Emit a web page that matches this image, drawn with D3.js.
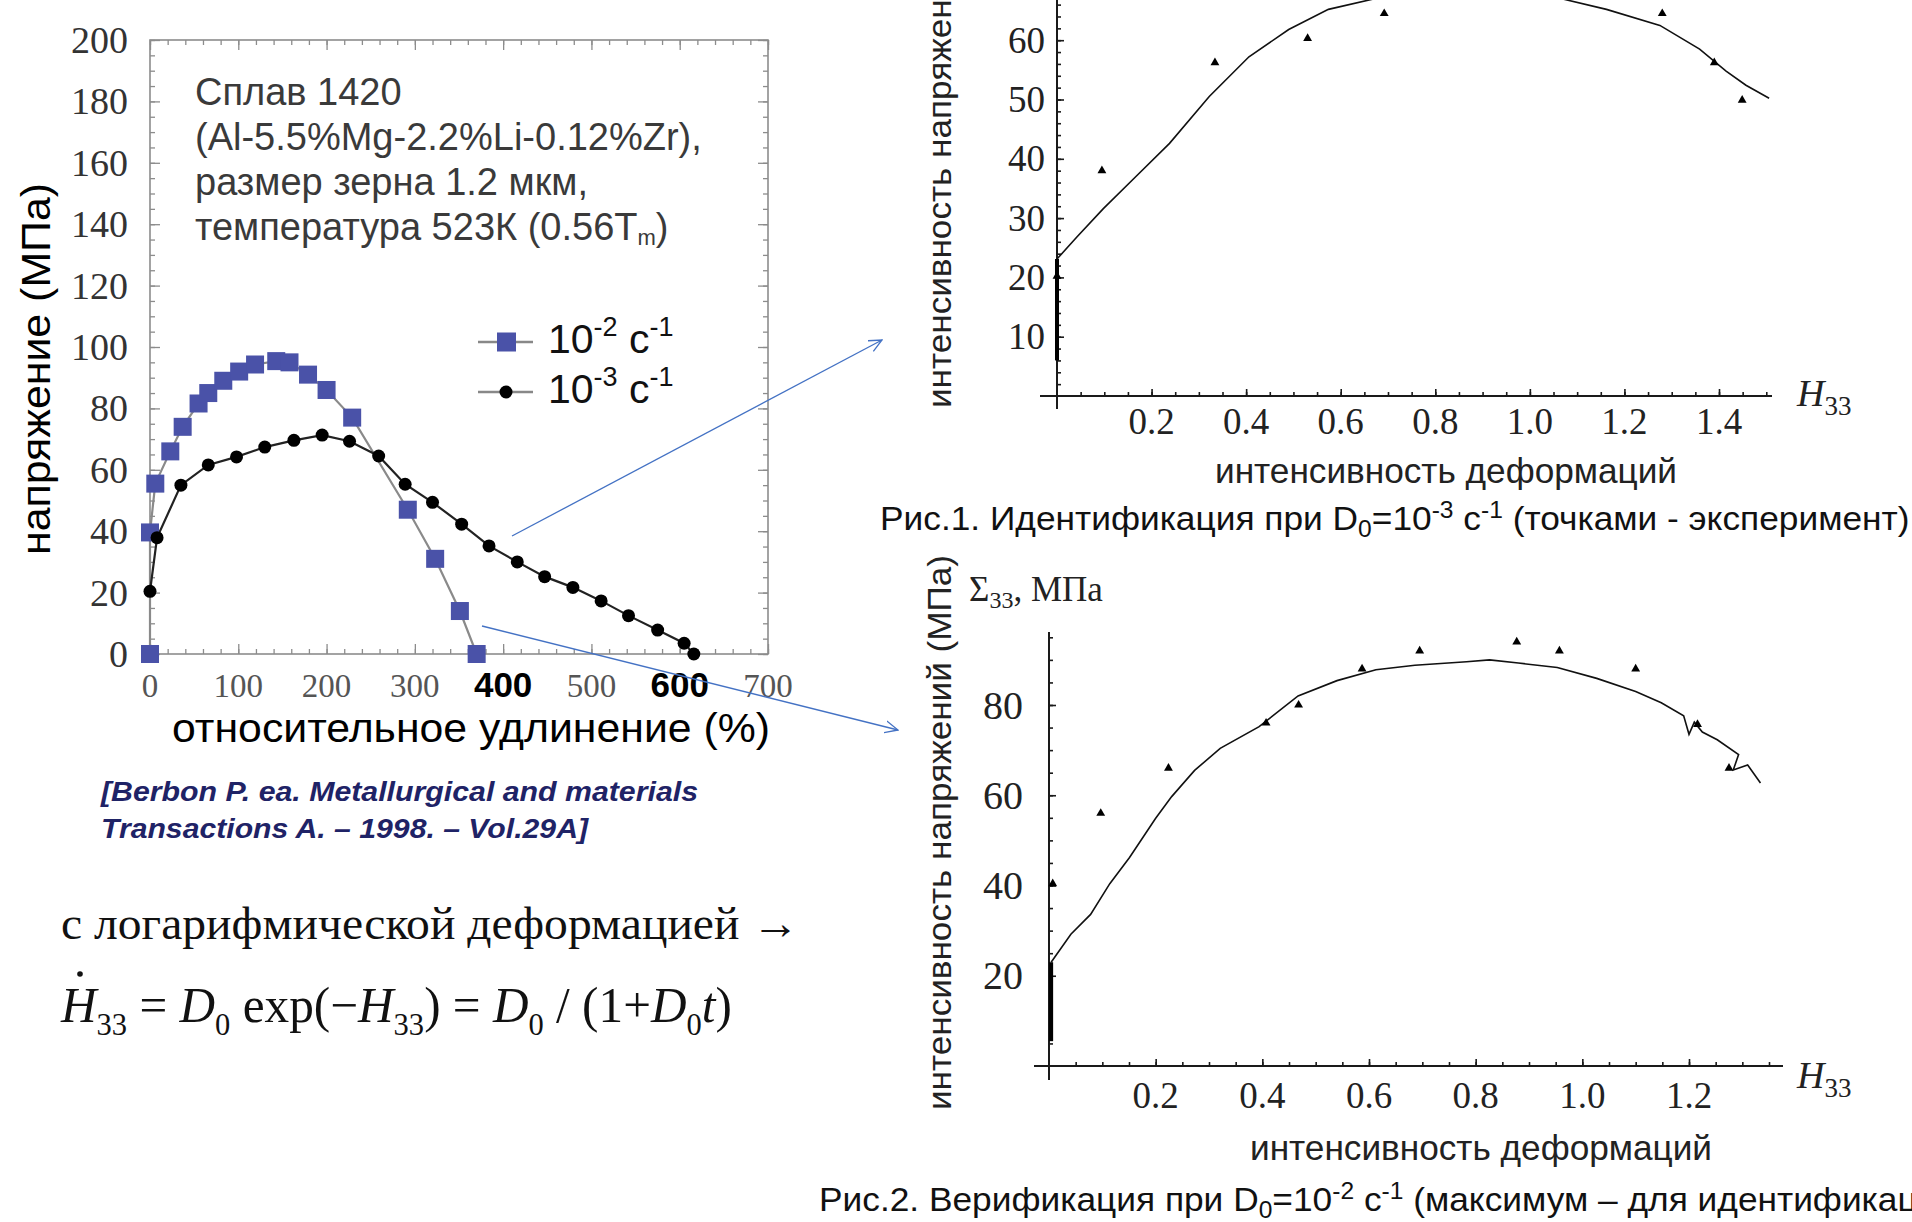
<!DOCTYPE html>
<html lang="ru">
<head>
  <meta charset="UTF-8">
  <title>Сплав 1420: идентификация и верификация</title>
  <style>
    body { margin: 0; overflow: hidden; background: #fff; }
    svg { display: block; }
    .serif { font-family: "Liberation Serif", "DejaVu Serif", serif; }
    .sans { font-family: "Liberation Sans", Arial, sans-serif; }
  </style>
</head>
<body>
<script src="https://d3js.org/d3.v7.min.js"></script>
<script>
// left chart (Berbon et al.): stress, MPa vs elongation, %
const fastElong  = [0, 0, 6, 23, 37, 55, 66, 83, 101, 119, 143, 158, 179, 200, 229, 292, 323, 351, 370];
const fastStress = [0, 39.6, 55.5, 66, 74, 81.6, 85, 89, 92, 94.3, 95.4, 95, 91, 86, 77, 47, 31, 14, 0];
const slowElong  = [0, 8, 35, 66, 98, 130, 163, 195, 226, 259, 289, 320, 353, 384, 416, 447, 479, 511, 542, 575, 605, 616];
const slowStress = [20.4, 37.9, 55, 61.6, 64.2, 67.4, 69.6, 71.3, 69.3, 64.5, 55.3, 49.4, 42.3, 35.2, 30, 25.2, 21.7, 17.3, 12.5, 7.8, 3.5, 0];
const elongTicks  = [0, 100, 200, 300, 400, 500, 600, 700];
const boldTicks   = [400, 600];
const stressTicks = [0, 20, 40, 60, 80, 100, 120, 140, 160, 180, 200];
const titleLines  = ["Сплав 1420", "(Al-5.5%Mg-2.2%Li-0.12%Zr),", "размер зерна 1.2 мкм,", "температура 523К (0.56T"];
const legendRates = ["-2", "-3"];

// Рис.1: identification, D0 = 1e-3
const fitStrain1 = [0, 0, 0.042, 0.098, 0.168, 0.238, 0.322, 0.406, 0.49, 0.574, 0.672, 0.75, 0.87, 0.97, 1.067, 1.162, 1.275, 1.359, 1.415, 1.457, 1.506];
const fitStress1 = [6, 23.1, 26.8, 31.6, 37.1, 42.6, 50.5, 57.2, 61.8, 65.2, 67, 68.6, 69.4, 68.6, 67, 65.2, 62.5, 58.5, 54.8, 52.4, 50.2];
const expStrain1 = [0, 0.095, 0.334, 0.53, 0.692, 1.28, 1.39, 1.449];
const expStress1 = [20.2, 38, 56.2, 60.3, 64.5, 64.5, 56.2, 49.9];
const strainTicks1 = [0.2, 0.4, 0.6, 0.8, 1.0, 1.2, 1.4];
const sigmaTicks1  = [10, 20, 30, 40, 50, 60];

// Рис.2: verification, D0 = 1e-2
const fitStrain2 = [0.004, 0.004, 0.041, 0.078, 0.114, 0.151, 0.2, 0.23, 0.273, 0.321, 0.394, 0.467, 0.54, 0.613, 0.686, 0.783, 0.826, 0.88, 0.953, 1.027, 1.1, 1.148, 1.19, 1.2, 1.21, 1.225, 1.253, 1.293, 1.283, 1.31, 1.334];
const fitStress2 = [5.5, 23, 29.2, 33.6, 40.4, 46.2, 54.9, 59.7, 65.5, 70.4, 75.2, 82, 85.4, 87.8, 88.8, 89.6, 90, 89.3, 88.3, 85.9, 83, 80.5, 77.6, 73.5, 76.2, 74, 72.3, 69, 65.6, 66.7, 62.7];
const expStrain2 = [0.007, 0.097, 0.224, 0.407, 0.468, 0.587, 0.695, 0.877, 0.957, 1.1, 1.216, 1.275];
const expStress2 = [40.4, 56, 66, 76, 80, 88, 92, 94, 92, 88, 75.7, 66];
const strainTicks2 = [0.2, 0.4, 0.6, 0.8, 1.0, 1.2];
const sigmaTicks2  = [20, 40, 60, 80];

const width = 1912, height = 1222;
const svg = d3.select("body").append("svg").attr("width", width).attr("height", height);

svg.append("defs").append("marker")
    .attr("id", "arrow")
    .attr("viewBox", "0 -7 14 14")
    .attr("refX", 13).attr("refY", 0)
    .attr("markerWidth", 14).attr("markerHeight", 14)
    .attr("markerUnits", "userSpaceOnUse")
    .attr("orient", "auto")
  .append("path")
    .attr("d", "M0,-6L13,0L0,6")
    .attr("fill", "none").attr("stroke", "#4472C4").attr("stroke-width", 1.3);

// ---------- left chart ----------
const xL = d3.scaleLinear().domain([0, 700]).range([150, 768]);
const yL = d3.scaleLinear().domain([0, 200]).range([654, 40]);
const left = svg.append("g");
const frameGrey = "#8c8c8c";

left.append("rect")
    .attr("x", xL(0)).attr("y", yL(200))
    .attr("width", xL(700) - xL(0)).attr("height", yL(0) - yL(200))
    .attr("fill", "none").attr("stroke", frameGrey).attr("stroke-width", 1.6);

function frameTicks(axis, tr, vals, size) {
  left.append("g").attr("transform", tr)
    .call(axis.tickValues(vals).tickSizeInner(-size).tickSizeOuter(0).tickFormat(""))
    .call(g => g.select(".domain").remove())
    .selectAll("line").attr("stroke", frameGrey).attr("stroke-width", 1.3);
}
const minorX = d3.range(0, 701, 20), minorY = d3.range(0, 201, 5);
frameTicks(d3.axisBottom(xL), `translate(0,${yL(0)})`, minorX, 5);
frameTicks(d3.axisBottom(xL), `translate(0,${yL(0)})`, elongTicks, 10);
frameTicks(d3.axisTop(xL), `translate(0,${yL(200)})`, minorX, 5);
frameTicks(d3.axisTop(xL), `translate(0,${yL(200)})`, elongTicks, 10);
frameTicks(d3.axisLeft(yL), `translate(${xL(0)},0)`, minorY, 5);
frameTicks(d3.axisLeft(yL), `translate(${xL(0)},0)`, stressTicks, 10);
frameTicks(d3.axisRight(yL), `translate(${xL(700)},0)`, minorY, 5);
frameTicks(d3.axisRight(yL), `translate(${xL(700)},0)`, stressTicks, 10);

left.append("g").attr("class", "serif")
  .selectAll("text").data(stressTicks).join("text")
    .attr("x", 128).attr("y", d => yL(d)).attr("dy", "0.34em")
    .attr("text-anchor", "end").attr("font-size", 38).attr("fill", "#333")
    .text(d => d);

left.append("g")
  .selectAll("text").data(elongTicks).join("text")
    .attr("x", d => xL(d)).attr("y", 697)
    .attr("text-anchor", "middle")
    .attr("class", d => boldTicks.includes(d) ? "sans" : "serif")
    .attr("font-weight", d => boldTicks.includes(d) ? "bold" : "normal")
    .attr("font-size", d => boldTicks.includes(d) ? 35 : 33)
    .attr("fill", d => boldTicks.includes(d) ? "#000" : "#555")
    .text(d => d);

left.append("text").attr("class", "sans")
    .attr("transform", "translate(50,369) rotate(-90)")
    .attr("text-anchor", "middle").attr("font-size", 40)
    .attr("textLength", 372).attr("lengthAdjust", "spacingAndGlyphs")
    .text("напряжение (МПа)");

left.append("text").attr("class", "sans")
    .attr("x", 172).attr("y", 742).attr("font-size", 40)
    .attr("textLength", 598).attr("lengthAdjust", "spacingAndGlyphs")
    .text("относительное удлинение (%)");

const title = left.append("g").attr("class", "sans").attr("font-size", 38).attr("fill", "#3a3a3a");
titleLines.forEach((t, i) => {
  const tx = title.append("text").attr("x", 195).attr("y", 105 + i * 45).text(t);
  if (i === 3) {
    tx.append("tspan").attr("font-size", 22).attr("dy", 5).text("m");
    tx.append("tspan").attr("dy", -5).text(")");
  }
});

// series
const lineL = d3.line().x(d => xL(d[0])).y(d => yL(d[1]));
const fast = d3.zip(fastElong, fastStress);
const slow = d3.zip(slowElong, slowStress);
left.append("path").datum(fast).attr("d", lineL)
    .attr("fill", "none").attr("stroke", "#8a8a8a").attr("stroke-width", 2.2);
left.append("path").datum(slow).attr("d", lineL)
    .attr("fill", "none").attr("stroke", "#222").attr("stroke-width", 2.2);
left.append("g").selectAll("rect").data(fast).join("rect")
    .attr("x", d => xL(d[0]) - 9).attr("y", d => yL(d[1]) - 9)
    .attr("width", 18).attr("height", 18).attr("fill", "#4A52A8");
left.append("g").selectAll("circle").data(slow).join("circle")
    .attr("cx", d => xL(d[0])).attr("cy", d => yL(d[1])).attr("r", 6.5).attr("fill", "#000");

// legend
const legend = left.append("g").attr("class", "sans");
legendRates.forEach((r, i) => {
  const ly = 342 + i * 50;
  legend.append("line").attr("x1", 478).attr("x2", 533).attr("y1", ly).attr("y2", ly)
      .attr("stroke", "#888").attr("stroke-width", 2.5);
  if (i === 0) legend.append("rect").attr("x", 497).attr("y", ly - 9.5).attr("width", 19).attr("height", 19).attr("fill", "#4A52A8");
  else legend.append("circle").attr("cx", 506).attr("cy", ly).attr("r", 6.5).attr("fill", "#000");
  const t = legend.append("text").attr("x", 548).attr("y", ly + 11).attr("font-size", 41).attr("fill", "#111");
  t.append("tspan").text("10");
  t.append("tspan").attr("font-size", 27).attr("dy", -17).text(r);
  t.append("tspan").attr("dy", 17).text(" c");
  t.append("tspan").attr("font-size", 27).attr("dy", -17).text("-1");
});

// citation and formula
const cite = svg.append("g").attr("class", "sans").attr("font-weight", "bold").attr("font-style", "italic")
    .attr("font-size", 27).attr("fill", "#1F2366");
cite.append("text").attr("x", 101).attr("y", 801)
    .attr("textLength", 597).attr("lengthAdjust", "spacingAndGlyphs")
    .text("[Berbon P. ea. Metallurgical and materials");
cite.append("text").attr("x", 101).attr("y", 838)
    .attr("textLength", 487).attr("lengthAdjust", "spacingAndGlyphs")
    .text("Transactions A. – 1998. – Vol.29A]");

svg.append("text").attr("class", "serif").attr("x", 61).attr("y", 939)
    .attr("font-size", 47).attr("fill", "#111")
    .attr("textLength", 738).attr("lengthAdjust", "spacingAndGlyphs")
    .text("с логарифмической деформацией →");

function stretch(sel, x, y, w) {
  const k = w / sel.node().getComputedTextLength();
  sel.attr("transform", `translate(${x},${y}) scale(${k},1)`);
  return k;
}

const formula = svg.append("text").attr("class", "serif").attr("font-size", 50).attr("fill", "#111");
const parts = [["H", "i"], ["33", "s"], [" = ", ""], ["D", "i"], ["0", "s"], [" exp(−", ""], ["H", "i"], ["33", "s"],
               [") = ", ""], ["D", "i"], ["0", "s"], [" / (1+", ""], ["D", "i"], ["0", "s"], ["t", "i"], [")", ""]];
let sub = false;
parts.forEach(([t, k]) => {
  const sp = formula.append("tspan").text(t);
  if (k === "i") sp.attr("font-style", "italic");
  if (k === "s") { sp.attr("font-size", 31).attr("dy", sub ? 0 : 13); sub = true; }
  else { sp.attr("dy", sub ? -13 : 0); sub = false; }
});
stretch(formula, 61, 1022, 671);
svg.append("circle").attr("cx", 80).attr("cy", 974).attr("r", 2.8).attr("fill", "#111");

// arrows
svg.append("line").attr("x1", 512).attr("y1", 536).attr("x2", 882).attr("y2", 340)
    .attr("stroke", "#4472C4").attr("stroke-width", 1.3).attr("marker-end", "url(#arrow)");
svg.append("line").attr("x1", 482).attr("y1", 626).attr("x2", 898).attr("y2", 730)
    .attr("stroke", "#4472C4").attr("stroke-width", 1.3).attr("marker-end", "url(#arrow)");

// ---------- Mathematica style charts ----------
function mathChart(o) {
  const g = svg.append("g");
  const x = d3.scaleLinear().domain(o.xDomain).range(o.xRange);
  const y = d3.scaleLinear().domain(o.yDomain).range(o.yRange);
  const ink = "#1a1a1a";

  g.append("line").attr("x1", o.xAxisExt[0]).attr("x2", o.xAxisExt[1]).attr("y1", y(0)).attr("y2", y(0))
      .attr("stroke", ink).attr("stroke-width", 2);
  g.append("line").attr("x1", x(0)).attr("x2", x(0)).attr("y1", o.yAxisExt[0]).attr("y2", o.yAxisExt[1])
      .attr("stroke", ink).attr("stroke-width", 2);

  const tk = (axis, tr, vals, size) => g.append("g").attr("transform", tr)
      .call(axis.tickValues(vals).tickSizeInner(-size).tickSizeOuter(0).tickFormat(""))
      .call(s => s.select(".domain").remove())
      .selectAll("line").attr("stroke", ink).attr("stroke-width", 1.6);
  tk(d3.axisBottom(x), `translate(0,${y(0)})`, o.xMinor, 4);
  tk(d3.axisBottom(x), `translate(0,${y(0)})`, o.xTicks, 7);
  tk(d3.axisLeft(y), `translate(${x(0)},0)`, o.yMinor, 4);
  tk(d3.axisLeft(y), `translate(${x(0)},0)`, o.yTicks, 7);

  g.append("g").attr("class", "serif").selectAll("text").data(o.xTicks).join("text")
      .attr("x", d => x(d)).attr("y", o.xLabelY).attr("text-anchor", "middle")
      .attr("font-size", o.xFont).attr("fill", "#222").text(d => d3.format(".1f")(d));
  g.append("g").attr("class", "serif").selectAll("text").data(o.yTicks).join("text")
      .attr("x", o.yLabelX).attr("y", d => y(d)).attr("dy", "0.34em").attr("text-anchor", "end")
      .attr("font-size", o.yFont).attr("fill", "#222").text(d => d);

  const h = g.append("text").attr("class", "serif").attr("x", o.hPos[0]).attr("y", o.hPos[1])
      .attr("font-size", 38).attr("fill", "#222");
  h.append("tspan").attr("font-style", "italic").text("H");
  h.append("tspan").attr("font-size", 27).attr("dy", 9).text("33");

  const fit = d3.zip(o.fitX, o.fitY);
  const ln = d3.line().x(d => x(d[0])).y(d => y(d[1]));
  g.append("path").datum(fit.slice(0, 2)).attr("d", ln).attr("stroke", "#000").attr("stroke-width", 4);
  g.append("path").datum(fit.slice(1)).attr("d", ln).attr("fill", "none").attr("stroke", "#111").attr("stroke-width", 1.6);
  g.append("g").selectAll("path").data(d3.zip(o.expX, o.expY)).join("path")
      .attr("transform", d => `translate(${x(d[0])},${y(d[1])})`)
      .attr("d", d3.symbol(d3.symbolTriangle, 34)).attr("fill", "#000");

  g.append("text").attr("class", "sans").attr("x", o.xTitle[0]).attr("y", o.xTitle[1])
      .attr("font-size", 35).attr("fill", "#222")
      .attr("textLength", 462).attr("lengthAdjust", "spacingAndGlyphs")
      .text("интенсивность деформаций");
  g.append("text").attr("class", "sans")
      .attr("transform", `translate(${o.yTitle[0]},${o.yTitle[1]}) rotate(-90)`)
      .attr("font-size", 34).attr("fill", "#222")
      .attr("textLength", 555).attr("lengthAdjust", "spacingAndGlyphs")
      .text("интенсивность напряжений (МПа)");

  const cap = g.append("text").attr("class", "sans").attr("font-size", 33).attr("fill", "#111");
  o.caption.forEach(([t, k]) => {
    const sp = cap.append("tspan").text(t);
    if (k === "sub") sp.attr("font-size", 23).attr("dy", 7);
    if (k === "sup") sp.attr("font-size", 23).attr("dy", -12);
    if (k === "back") sp.attr("dy", 12);
    if (k === "up") sp.attr("dy", -7);
  });
  return { g, x, y, cap };
}

const c1 = mathChart({
  xDomain: [0, 1.4], xRange: [1057, 1719], yDomain: [0, 60], yRange: [396, 40.2],
  xAxisExt: [1040, 1772], yAxisExt: [-5, 409],
  xTicks: strainTicks1, xMinor: d3.range(0.05, 1.52, 0.05), yTicks: sigmaTicks1, yMinor: d3.range(2, 67, 2),
  xLabelY: 434, yLabelX: 1045, xFont: 37, yFont: 37, hPos: [1797, 406],
  fitX: fitStrain1, fitY: fitStress1, expX: expStrain1, expY: expStress1,
  xTitle: [1215, 483], yTitle: [951, 408],
  caption: [["Рис.1. Идентификация при D", ""], ["0", "sub"], ["=10", "up"], ["-3", "sup"], [" с", "back"],
            ["-1", "sup"], [" (точками - эксперимент)", "back"]]
});
const k = stretch(c1.cap, 880, 530, 1030);

const c2 = mathChart({
  xDomain: [0, 1.2], xRange: [1049, 1689], yDomain: [0, 80], yRange: [1066, 705],
  xAxisExt: [1034, 1783], yAxisExt: [632, 1080],
  xTicks: strainTicks2, xMinor: d3.range(0.05, 1.37, 0.05), yTicks: sigmaTicks2, yMinor: d3.range(5, 96, 5),
  xLabelY: 1108, yLabelX: 1023, xFont: 37, yFont: 40, hPos: [1797, 1088],
  fitX: fitStrain2, fitY: fitStress2, expX: expStrain2, expY: expStress2,
  xTitle: [1250, 1160], yTitle: [951, 1110],
  caption: [["Рис.2. Верификация при D", ""], ["0", "sub"], ["=10", "up"], ["-2", "sup"], [" с", "back"],
            ["-1", "sup"], [" (максимум – для идентификации)", "back"]]
});
c2.cap.attr("transform", `translate(819,1211) scale(${k},1)`);

const sig = c2.g.append("text").attr("class", "serif").attr("x", 969).attr("y", 601)
    .attr("font-size", 35).attr("fill", "#222");
sig.append("tspan").text("Σ");
sig.append("tspan").attr("font-size", 24).attr("dy", 7).text("33");
sig.append("tspan").attr("dy", -7).text(", МПа");
</script>
</body>
</html>
